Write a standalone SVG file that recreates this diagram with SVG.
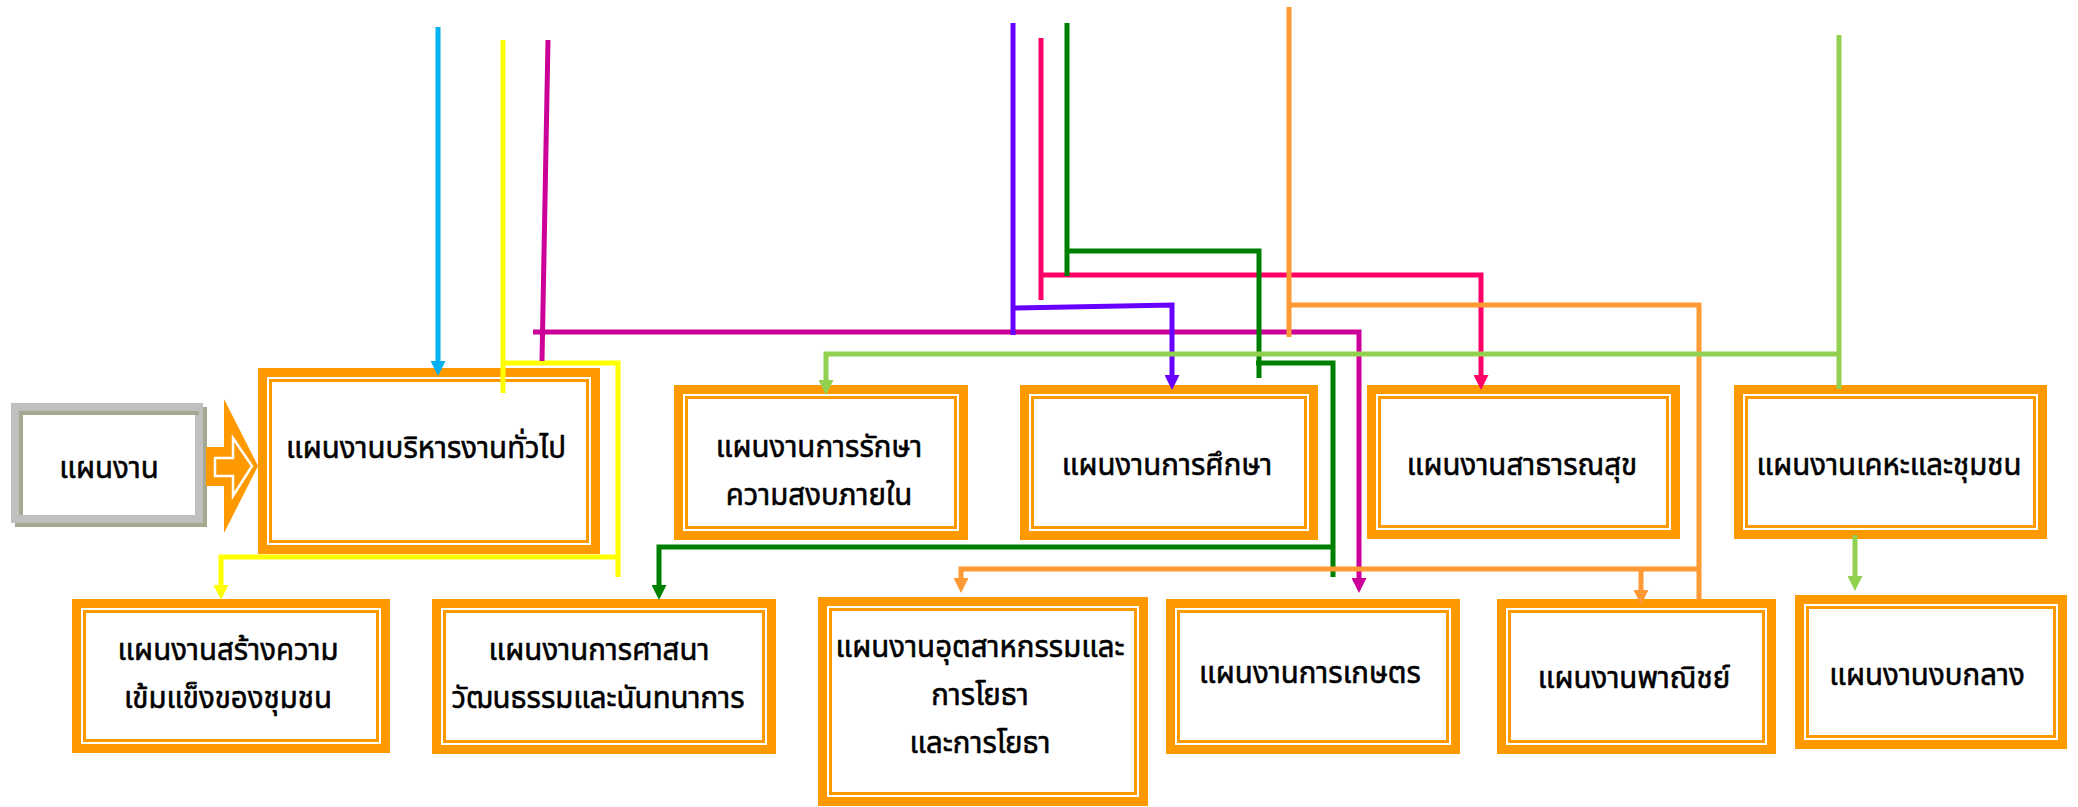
<svg xmlns="http://www.w3.org/2000/svg" width="2078" height="807" viewBox="0 0 2078 807">
<style>
.bo{fill:#fff;stroke:#FF9900;stroke-width:9}
.bi{fill:none;stroke:#FF9900;stroke-width:3}
.t{font-family:"Noto Sans Thai","Noto Sans","DejaVu Sans",sans-serif;font-size:31px;fill:#000;stroke:#000;stroke-width:0.6;text-anchor:middle;transform-box:fill-box;transform-origin:center;transform:scaleX(0.95)}
.c{fill:none;stroke-width:5}
</style>
<defs>
<marker id="mBlue" viewBox="0 0 10 10" refX="0" refY="5" markerWidth="3" markerHeight="3" orient="auto"><path d="M0,0L10,5L0,10z" fill="#00B0F0"/></marker>
<marker id="mYel" viewBox="0 0 10 10" refX="0" refY="5" markerWidth="3" markerHeight="3" orient="auto"><path d="M0,0L10,5L0,10z" fill="#FFFF00"/></marker>
<marker id="mMag" viewBox="0 0 10 10" refX="0" refY="5" markerWidth="3" markerHeight="3" orient="auto"><path d="M0,0L10,5L0,10z" fill="#CC0099"/></marker>
<marker id="mPur" viewBox="0 0 10 10" refX="0" refY="5" markerWidth="3" markerHeight="3" orient="auto"><path d="M0,0L10,5L0,10z" fill="#6600FF"/></marker>
<marker id="mPink" viewBox="0 0 10 10" refX="0" refY="5" markerWidth="3" markerHeight="3" orient="auto"><path d="M0,0L10,5L0,10z" fill="#FF0066"/></marker>
<marker id="mGrn" viewBox="0 0 10 10" refX="0" refY="5" markerWidth="3" markerHeight="3" orient="auto"><path d="M0,0L10,5L0,10z" fill="#008000"/></marker>
<marker id="mOr" viewBox="0 0 10 10" refX="0" refY="5" markerWidth="3" markerHeight="3" orient="auto"><path d="M0,0L10,5L0,10z" fill="#FF9933"/></marker>
<marker id="mLg" viewBox="0 0 10 10" refX="0" refY="5" markerWidth="3" markerHeight="3" orient="auto"><path d="M0,0L10,5L0,10z" fill="#92D050"/></marker>
</defs>
<rect width="2078" height="807" fill="#fff"/>
<g id="node-plan">
<rect x="19" y="411" width="184" height="112" fill="none" stroke="#A6A98F" stroke-width="8"/>
<rect x="15" y="407" width="184" height="112" fill="#fff" stroke="#BFBFBF" stroke-width="8"/>
<rect x="19" y="411" width="180" height="4" fill="#A6A98F"/>
<rect x="19" y="411" width="4" height="104" fill="#A6A98F"/>
<text class="t" x="109" y="478">แผนงาน</text>
</g>
<g id="block-arrow">
<polygon points="206,447 224,447 224,399 258,466 224,533 224,486 206,486" fill="#FF9900"/>
<polygon points="215,458 233,458 233,438 252,466 233,496 233,476 215,476" fill="#FF9900" stroke="#fff" stroke-width="2.5"/>
</g>
<g id="node-admin">
<rect class="bo" x="262.5" y="372.5" width="333" height="177"/>
<rect class="bi" x="270.5" y="380.5" width="317" height="161"/>
<text class="t" x="426" y="458">แผนงานบริหารงานทั่วไป</text>
</g>
<g id="node-security">
<rect class="bo" x="678.5" y="389.5" width="285" height="146"/>
<rect class="bi" x="686.5" y="397.5" width="269" height="130"/>
<text class="t" x="819" y="457">แผนงานการรักษา</text>
<text class="t" x="819" y="505">ความสงบภายใน</text>
</g>
<g id="node-education">
<rect class="bo" x="1024.5" y="389.5" width="289" height="146"/>
<rect class="bi" x="1032.5" y="397.5" width="273" height="130"/>
<text class="t" x="1167" y="475">แผนงานการศึกษา</text>
</g>
<g id="node-health">
<rect class="bo" x="1371.5" y="389.5" width="304" height="145"/>
<rect class="bi" x="1379.5" y="397.5" width="288" height="129"/>
<text class="t" x="1522" y="475">แผนงานสาธารณสุข</text>
</g>
<g id="node-housing">
<rect class="bo" x="1738.5" y="389.5" width="304" height="145"/>
<rect class="bi" x="1746.5" y="397.5" width="288" height="129"/>
<text class="t" x="1889" y="475">แผนงานเคหะและชุมชน</text>
</g>
<g id="node-community">
<rect class="bo" x="76.5" y="603.5" width="309" height="145"/>
<rect class="bi" x="84.5" y="611.5" width="293" height="129"/>
<text class="t" x="228" y="660">แผนงานสร้างความ</text>
<text class="t" x="228" y="708">เข้มแข็งของชุมชน</text>
</g>
<g id="node-religion">
<rect class="bo" x="436.5" y="603.5" width="335" height="146"/>
<rect class="bi" x="444.5" y="611.5" width="319" height="130"/>
<text class="t" x="599" y="660">แผนงานการศาสนา</text>
<text class="t" x="598" y="708">วัฒนธรรมและนันทนาการ</text>
</g>
<g id="node-industry">
<rect class="bo" x="822.5" y="601.5" width="321" height="200"/>
<rect class="bi" x="830.5" y="609.5" width="305" height="184"/>
<text class="t" x="980" y="657">แผนงานอุตสาหกรรมและ</text>
<text class="t" x="980" y="705">การโยธา</text>
<text class="t" x="980" y="753">และการโยธา</text>
</g>
<g id="node-agriculture">
<rect class="bo" x="1170.5" y="603.5" width="285" height="146"/>
<rect class="bi" x="1178.5" y="611.5" width="269" height="130"/>
<text class="t" x="1310" y="683">แผนงานการเกษตร</text>
</g>
<g id="node-commerce">
<rect class="bo" x="1501.5" y="603.5" width="270" height="146"/>
<rect class="bi" x="1509.5" y="611.5" width="254" height="130"/>
<text class="t" x="1634" y="688">แผนงานพาณิชย์</text>
</g>
<g id="node-budget">
<rect class="bo" x="1799.5" y="599.5" width="263" height="145"/>
<rect class="bi" x="1807.5" y="607.5" width="247" height="129"/>
<text class="t" x="1927" y="685">แผนงานงบกลาง</text>
</g>
<g id="connectors">
<path class="c" stroke="#00B0F0" d="M438,27V361" marker-end="url(#mBlue)"/>
<path class="c" stroke="#FFFF00" d="M503,40V393"/>
<path class="c" stroke="#FFFF00" d="M503,363H618V577"/>
<path class="c" stroke="#FFFF00" d="M618,557H221V585" marker-end="url(#mYel)"/>
<path class="c" stroke="#CC0099" d="M548,40L542,361"/>
<path class="c" stroke="#CC0099" d="M533,332H1359V578" marker-end="url(#mMag)"/>
<path class="c" stroke="#6600FF" d="M1013,23V335"/>
<path class="c" stroke="#6600FF" d="M1013,308L1172,305V375" marker-end="url(#mPur)"/>
<path class="c" stroke="#FF0066" d="M1041,38V300"/>
<path class="c" stroke="#FF0066" d="M1041,275H1481V375" marker-end="url(#mPink)"/>
<path class="c" stroke="#008000" d="M1067,23V276"/>
<path class="c" stroke="#008000" d="M1067,251H1259V378"/>
<path class="c" stroke="#008000" d="M1256,363H1333V577"/>
<path class="c" stroke="#008000" d="M1333,547H659V585" marker-end="url(#mGrn)"/>
<path class="c" stroke="#FF9933" d="M1289,7V337"/>
<path class="c" stroke="#FF9933" d="M1289,305H1699V600"/>
<path class="c" stroke="#FF9933" d="M1699,569H961V578" marker-end="url(#mOr)"/>
<path class="c" stroke="#FF9933" d="M1641,569V590" marker-end="url(#mOr)"/>
<path class="c" stroke="#92D050" stroke-width="6" d="M1839,35V389"/>
<path class="c" stroke="#92D050" stroke-width="6" d="M1839,354H826V380" marker-end="url(#mLg)"/>
<path class="c" stroke="#92D050" stroke-width="6" d="M1855,535V576" marker-end="url(#mLg)"/>
</g>
</svg>
